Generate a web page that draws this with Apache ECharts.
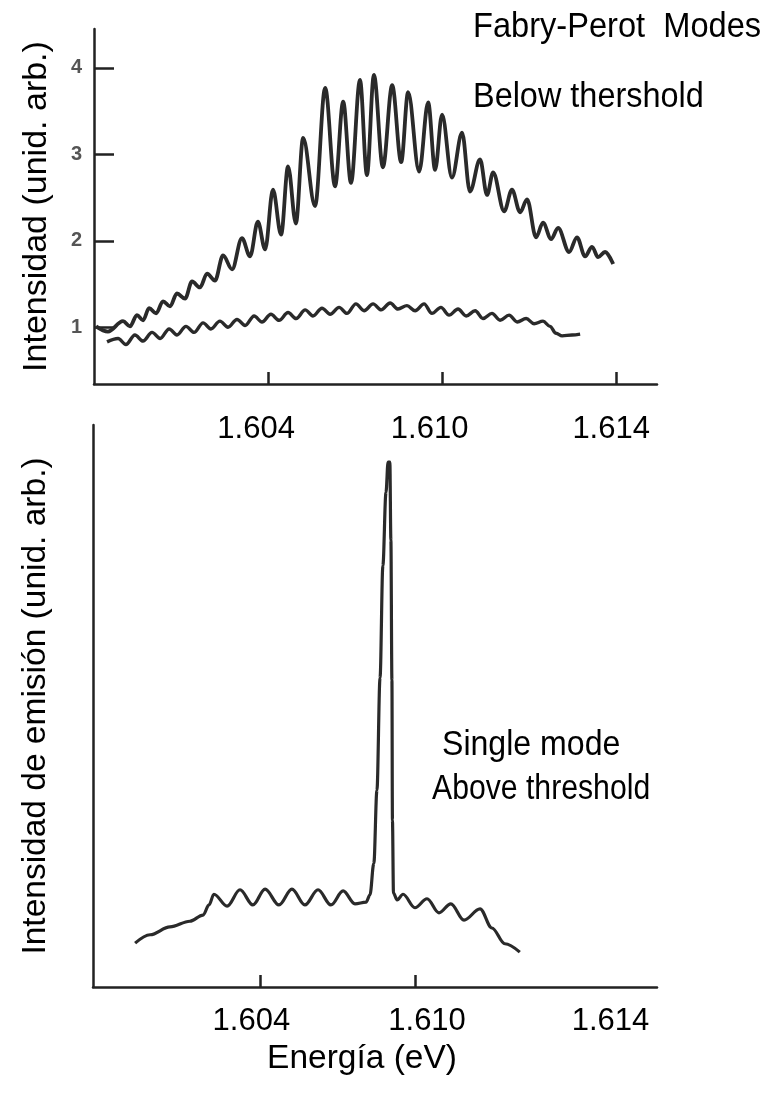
<!DOCTYPE html>
<html><head><meta charset="utf-8">
<script src="https://cdn.jsdelivr.net/npm/echarts@6/dist/echarts.min.js"></script>
<style>html,body{margin:0;padding:0;background:#fff}#c{width:769px;height:1096px}</style>
</head><body><div id="c"></div>
<script>
// ---- data ----
const tickLabels = ['1.604', '1.610', '1.614'];
const yTicksTop = [1, 2, 3, 4];
const topTickE = [1.604, 1.610, 1.616];
const topLabelE = [1.60359, 1.60957, 1.61583];
const botTickE = [1.604, 1.610];
const botLabelE = [1.60367, 1.61047, 1.61757];

// Below threshold (Fabry-Perot modes), upper trace
const belowE = [1.59807,1.59848,1.59900,1.59924,1.59948,1.59969,1.59990,1.60014,1.60038,1.60062,1.60086,1.60114,1.60138,1.60165,1.60190,1.60217,1.60245,1.60276,1.60310,1.60338,1.60365,1.60390,1.60417,1.60445,1.60469,1.60496,1.60521,1.60562,1.60597,1.60631,1.60659,1.60686,1.60717,1.60741,1.60765,1.60796,1.60828,1.60859,1.60883,1.60921,1.60952,1.60976,1.61000,1.61034,1.61069,1.61096,1.61131,1.61155,1.61176,1.61214,1.61241,1.61269,1.61293,1.61324,1.61348,1.61376,1.61400,1.61438,1.61465,1.61493,1.61517,1.61538,1.61562,1.61590];
const belowI = [1.01,0.95,1.07,1.01,1.14,1.08,1.22,1.16,1.30,1.24,1.39,1.33,1.53,1.46,1.62,1.54,1.83,1.67,2.03,1.82,2.22,1.90,2.59,2.07,2.86,2.20,3.19,2.40,3.77,2.63,3.61,2.67,3.86,2.76,3.92,2.85,3.80,2.91,3.72,2.80,3.60,2.82,3.46,2.73,3.25,2.57,2.94,2.53,2.79,2.34,2.59,2.33,2.48,2.04,2.21,2.02,2.15,1.87,2.04,1.82,1.93,1.81,1.87,1.73];

// lower trace (top panel)
const lowE = [1.59845,1.59883,1.59910,1.59941,1.59969,1.60000,1.60028,1.60059,1.60086,1.60117,1.60145,1.60176,1.60203,1.60234,1.60262,1.60293,1.60321,1.60352,1.60379,1.60410,1.60438,1.60469,1.60497,1.60528,1.60555,1.60586,1.60614,1.60645,1.60672,1.60703,1.60731,1.60762,1.60790,1.60821,1.60848,1.60879,1.60907,1.60938,1.60965,1.60996,1.61024,1.61055,1.61083,1.61114,1.61141,1.61172,1.61200,1.61231,1.61259,1.61290,1.61317,1.61348,1.61372,1.61393,1.61414,1.61448,1.61476];
const lowI = [0.83,0.87,0.80,0.91,0.84,0.94,0.87,0.98,0.91,1.01,0.94,1.05,0.98,1.07,1.00,1.09,1.02,1.13,1.06,1.15,1.08,1.17,1.10,1.20,1.13,1.22,1.15,1.23,1.16,1.27,1.19,1.27,1.20,1.28,1.21,1.25,1.19,1.27,1.16,1.23,1.14,1.21,1.13,1.19,1.10,1.16,1.08,1.14,1.06,1.10,1.04,1.07,1.01,0.93,0.90,0.91,0.92];

// Above threshold (single mode)
const aboveE = [1.59917,1.59975,1.60052,1.60129,1.60180,1.60203,1.60222,1.60273,1.60323,1.60373,1.60420,1.60474,1.60524,1.60574,1.60625,1.60675,1.60722,1.60768,1.60811,1.60826,1.60841,1.60853,1.60865,1.60876,1.60888,1.60896,1.60903,1.60907,1.60911,1.60913,1.60917,1.60931,1.60954,1.61000,1.61047,1.61093,1.61139,1.61190,1.61252,1.61298,1.61348,1.61406];
const aboveI = [7.8,9.3,10.7,11.7,12.8,14.6,16.5,14.4,17.3,14.6,17.4,14.6,17.4,14.6,17.3,14.6,17.1,14.8,15.1,16.4,22.0,35.0,55.0,75.0,88.0,93.4,93.4,79.5,54.6,29.7,16.7,15.5,16.5,14.1,15.7,13.2,14.8,11.9,13.9,10.5,7.7,6.2];

// ---- fonts ----
const FONT = '"Liberation Sans", Arial, Helvetica, sans-serif';
function fontAvailable(name) {
  const ctx = document.createElement('canvas').getContext('2d');
  const s = '1.604 1.610 1.614 Modes';
  ctx.font = '50px monospace';
  const a = ctx.measureText(s).width;
  ctx.font = '50px "' + name + '", monospace';
  const b = ctx.measureText(s).width;
  return Math.abs(a - b) > 1;
}
const NARROW = fontAvailable('Liberation Sans Narrow');
const TICK_FONT = NARROW ? '"Liberation Sans Narrow", "Liberation Sans", Arial, sans-serif' : FONT;
const TICK_SIZE = NARROW ? 38 : 31;
const TICK_SHIFT = NARROW ? 3 : 0;

// ---- chart ----
const INK = '#222';
const zip = (a, b) => a.map((v, i) => [v, b[i]]);
const nearestLabel = (pos) => (v) => {
  let bi = 0, bd = Infinity;
  pos.forEach((p, i) => { const d = Math.abs(p - v); if (d < bd) { bd = d; bi = i; } });
  return tickLabels[bi];
};
const lineSeries = (xi, data, w) => ({
  type: 'line', xAxisIndex: xi, yAxisIndex: xi, data,
  showSymbol: false, symbol: 'none', smooth: 0.35, smoothMonotone: 'x',
  lineStyle: { color: '#2a2a2a', width: w }, animation: false, silent: true
});
const note = (text, x, y, size, sx) => ({
  type: 'text', x, y, scaleX: sx, silent: true,
  style: { text, font: size + 'px ' + FONT, fill: '#000', align: 'left', verticalAlign: 'middle' }
});

const chart = echarts.init(document.getElementById('c'), null, { renderer: 'canvas' });
chart.setOption({
  backgroundColor: '#fff',
  animation: false,
  grid: [
    { left: 94, top: 29, width: 563, height: 355 },
    { left: 93, top: 425, width: 564, height: 562 }
  ],
  xAxis: [
    {
      type: 'value', gridIndex: 0, min: 1.598, max: 1.61741,
      axisLine: { show: true, lineStyle: { color: INK, width: 2.5 } },
      axisTick: { show: true, inside: true, length: 12, customValues: topTickE, lineStyle: { color: INK, width: 2.5 } },
      axisLabel: { customValues: topLabelE, margin: 30 - TICK_SHIFT, fontSize: TICK_SIZE, color: '#000', fontFamily: TICK_FONT, formatter: nearestLabel(topLabelE) },
      splitLine: { show: false }
    },
    {
      type: 'value', gridIndex: 1, min: 1.59754, max: 1.61937,
      axisLine: { show: true, lineStyle: { color: INK, width: 2.5 } },
      axisTick: { show: true, inside: true, length: 12, customValues: botTickE, lineStyle: { color: INK, width: 2.5 } },
      axisLabel: { customValues: botLabelE, margin: 19 - TICK_SHIFT, fontSize: TICK_SIZE, color: '#000', fontFamily: TICK_FONT, formatter: nearestLabel(botLabelE) },
      splitLine: { show: false },
      name: 'Energía (eV)', nameLocation: 'middle', nameGap: 50,
      nameTextStyle: { fontSize: 33.5, color: '#000', fontFamily: FONT, padding: [0, 26, 0, 0] }
    }
  ],
  yAxis: [
    {
      type: 'value', gridIndex: 0, min: 0.343, max: 4.45,
      axisLine: { show: true, lineStyle: { color: INK, width: 2.5 } },
      axisTick: { show: true, inside: true, length: 20, customValues: yTicksTop, lineStyle: { color: INK, width: 2.5 } },
      axisLabel: { customValues: yTicksTop, margin: 12, fontSize: 20, fontWeight: 'bold', color: '#555', fontFamily: FONT },
      splitLine: { show: false },
      name: 'Intensidad (unid. arb.)', nameLocation: 'middle', nameGap: 40,
      nameTextStyle: { fontSize: 34, color: '#000', fontFamily: FONT }
    },
    {
      type: 'value', gridIndex: 1, min: 0, max: 100,
      axisLine: { show: true, lineStyle: { color: INK, width: 2.5 } },
      axisTick: { show: false }, axisLabel: { show: false },
      splitLine: { show: false },
      name: 'Intensidad de emisión (unid. arb.)', nameLocation: 'middle', nameGap: 40,
      nameTextStyle: { fontSize: 33.5, color: '#000', fontFamily: FONT }
    }
  ],
  graphic: [
    note('Fabry-Perot  Modes', 473, 27, 34.5, 0.945),
    note('Below thershold', 473, 97, 34.5, 0.94),
    note('Single mode', 442, 745, 34.5, 0.93),
    note('Above threshold', 432, 789, 34.5, 0.875)
  ],
  series: [
    lineSeries(0, zip(belowE, belowI), 3.8),
    lineSeries(0, zip(lowE, lowI), 3.4),
    lineSeries(1, zip(aboveE, aboveI), 3.2)
  ]
});
</script></body></html>
